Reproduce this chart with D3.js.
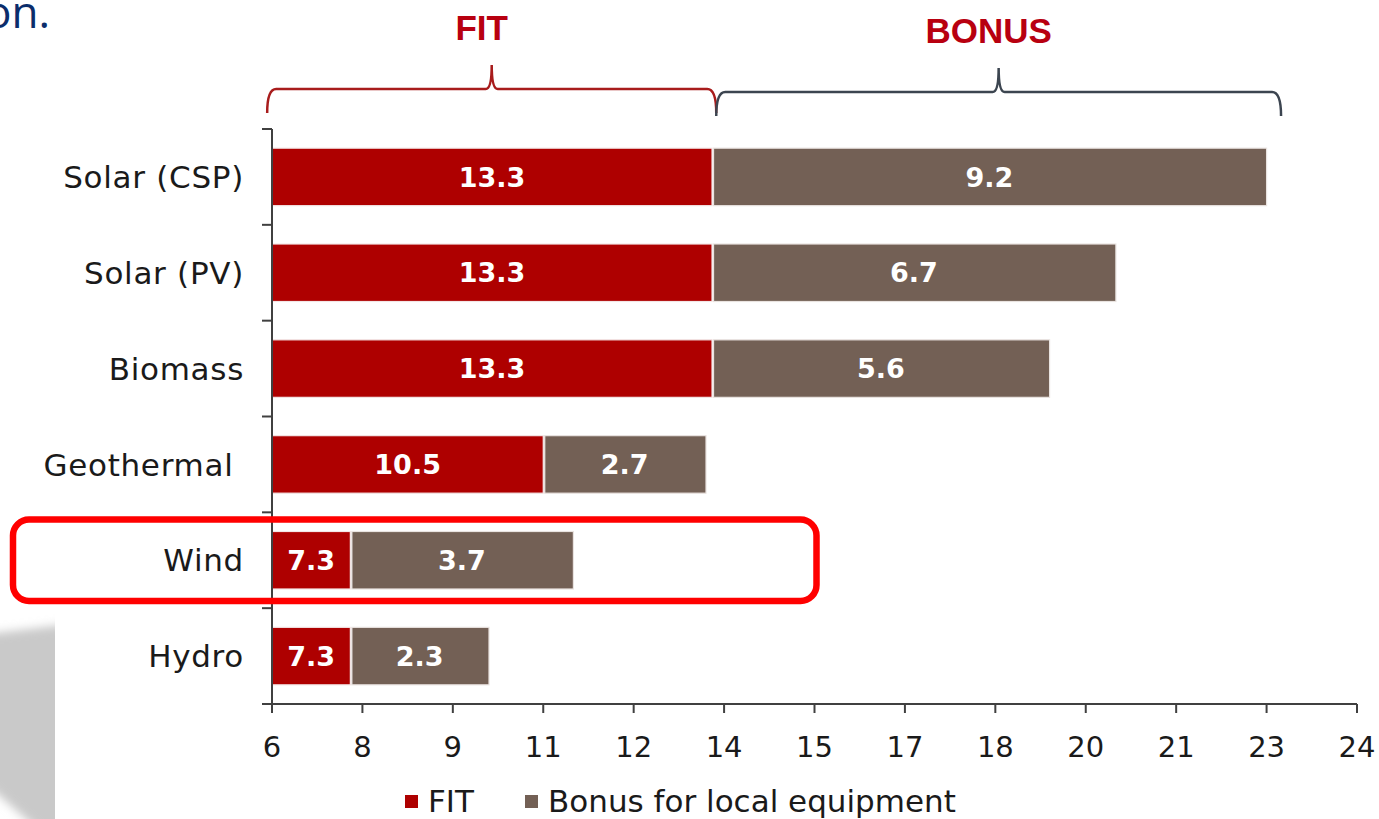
<!DOCTYPE html>
<html>
<head>
<meta charset="utf-8">
<script src="https://cdn.jsdelivr.net/npm/d3@7"></script>
<style>
  html, body { margin: 0; padding: 0; background: #ffffff; }
  svg { display: block; }
</style>
</head>
<body>
<script>
// ---------- data ----------
const categories = ["Solar (CSP)", "Solar (PV)", "Biomass", "Geothermal\u00a0", "Wind", "Hydro"];
const fitValues = [13.3, 13.3, 13.3, 10.5, 7.3, 7.3];
const bonusValues = [9.2, 6.7, 5.6, 2.7, 3.7, 2.3];
const tickValues = [6, 7.5, 9, 10.5, 12, 13.5, 15, 16.5, 18, 19.5, 21, 22.5, 24];
const tickLabels = ["6", "8", "9", "11", "12", "14", "15", "17", "18", "20", "21", "23", "24"];
const seriesNames = ["FIT", "Bonus for local equipment"];
const braceGroups = ["FIT", "BONUS"];
const braceRanges = [[5.92, 13.37], [13.37, 22.74]];
const highlightCategory = "Wind";

// ---------- layout ----------
const W = 1379, H = 819;
const colors = { fit: "#ae0000", bonus: "#736055", axis: "#404040", text: "#1a1a1a" };

const svg = d3.select("body").append("svg").attr("width", W).attr("height", H);

const x = d3.scaleLinear().domain([6, 24]).range([272, 1357]);
const y = d3.scaleBand().domain(categories).range([129, 704]).paddingInner(0.4).paddingOuter(0.2);
const step = y.step();

const defs = svg.append("defs");
// grey slide shadow at bottom-left
const blur = defs.append("filter").attr("id", "blur").attr("x", "-50%").attr("y", "-50%").attr("width", "200%").attr("height", "200%");
blur.append("feGaussianBlur").attr("stdDeviation", 5);
defs.append("clipPath").attr("id", "leftclip").append("rect").attr("x", 0).attr("y", 600).attr("width", 55).attr("height", 219);
svg.append("g").attr("clip-path", "url(#leftclip)")
  .append("polygon")
  .attr("points", "-30,636 70,624 70,840 50,840 -30,770")
  .attr("fill", "#c9c9c9")
  .attr("filter", "url(#blur)");

// top-left partial text
svg.append("text").attr("x", 50).attr("y", 28).attr("text-anchor", "end")
  .attr("font-family", "'Open Sans', 'Liberation Sans', sans-serif").attr("font-size", 44)
  .attr("fill", "#0b2d6b").text("on.");

// ---------- bars ----------
const rows = categories.map((c, i) => ({ cat: c, fit: fitValues[i], bonus: bonusValues[i] }));
const bars = svg.append("g");
rows.forEach(d => {
  const g = bars.append("g");
  g.append("rect")
    .attr("x", x(6)).attr("y", y(d.cat))
    .attr("width", x(d.fit) - x(6)).attr("height", y.bandwidth())
    .attr("fill", colors.fit).attr("stroke", "#f3e6e6").attr("stroke-width", 1.2);
  g.append("rect")
    .attr("x", x(d.fit) + 1.5).attr("y", y(d.cat))
    .attr("width", x(d.fit + d.bonus) - x(d.fit) - 1.5).attr("height", y.bandwidth())
    .attr("fill", colors.bonus).attr("stroke", "#e9e3e0").attr("stroke-width", 1.2);
  const cy = y(d.cat) + y.bandwidth() / 2;
  g.append("text")
    .attr("x", (x(6) + x(d.fit)) / 2).attr("y", cy).attr("dy", "0.36em")
    .attr("text-anchor", "middle").attr("fill", "#ffffff")
    .attr("font-family", "'DejaVu Sans', Verdana, sans-serif").attr("font-weight", "bold").attr("font-size", 27)
    .text(d3.format(".1f")(d.fit));
  g.append("text")
    .attr("x", (x(d.fit) + x(d.fit + d.bonus)) / 2).attr("y", cy).attr("dy", "0.36em")
    .attr("text-anchor", "middle").attr("fill", "#ffffff")
    .attr("font-family", "'DejaVu Sans', Verdana, sans-serif").attr("font-weight", "bold").attr("font-size", 27)
    .text(d3.format(".1f")(d.bonus));
});

// ---------- axes ----------
const axisG = svg.append("g").attr("stroke", colors.axis).attr("stroke-width", 2).attr("fill", "none");
axisG.append("line").attr("x1", x(6)).attr("x2", x(6)).attr("y1", y.range()[0]).attr("y2", y.range()[1]);
const yBounds = d3.range(categories.length + 1).map(i => y.range()[0] + i * step);
axisG.selectAll(".yt").data(yBounds).join("line")
  .attr("x1", x(6) - 10).attr("x2", x(6)).attr("y1", d => d).attr("y2", d => d);
axisG.append("line").attr("x1", x(6)).attr("x2", x(24)).attr("y1", y.range()[1]).attr("y2", y.range()[1]);
axisG.selectAll(".xt").data(tickValues).join("line")
  .attr("x1", d => x(d)).attr("x2", d => x(d)).attr("y1", y.range()[1]).attr("y2", y.range()[1] + 9);

// x tick labels
svg.append("g").selectAll("text").data(tickValues).join("text")
  .attr("x", d => x(d)).attr("y", 757)
  .attr("text-anchor", "middle")
  .attr("font-family", "'DejaVu Sans', Verdana, sans-serif").attr("font-size", 29)
  .attr("fill", colors.text)
  .text((d, i) => tickLabels[i]);

// category labels
svg.append("g").selectAll("text").data(categories).join("text")
  .attr("x", 244).attr("y", d => y(d) + y.bandwidth() / 2).attr("dy", "0.36em")
  .attr("text-anchor", "end")
  .attr("font-family", "'DejaVu Sans', Verdana, sans-serif").attr("font-size", 31)
  .attr("letter-spacing", 0.7)
  .attr("fill", colors.text)
  .text(d => d);

// ---------- braces ----------
const braceColors = ["#a81c1c", "#3c4550"];
const braceY = [89, 92];
braceRanges.forEach((r, i) => {
  const x0 = x(r[0]), x1 = x(r[1]), m = (x0 + x1) / 2, by = braceY[i];
  const p = d3.path();
  p.moveTo(x0, by + 24);
  p.quadraticCurveTo(x0, by, x0 + 9, by);
  p.lineTo(m - 6, by);
  p.quadraticCurveTo(m, by, m, by - 24);
  p.quadraticCurveTo(m, by, m + 6, by);
  p.lineTo(x1 - 9, by);
  p.quadraticCurveTo(x1, by, x1, by + 24);
  svg.append("path").attr("d", p.toString()).attr("fill", "none")
    .attr("stroke", braceColors[i]).attr("stroke-width", 2.5);
  svg.append("text").attr("x", m - 10).attr("y", by - 49)
    .attr("text-anchor", "middle")
    .attr("font-family", "'Liberation Sans', Arial, sans-serif").attr("font-weight", "bold").attr("font-size", 35)
    .attr("fill", "#b80010").text(braceGroups[i]);
});

// ---------- highlight box ----------
svg.append("rect")
  .attr("x", 13).attr("y", y(highlightCategory) - 12)
  .attr("width", x(15) - 11).attr("height", y.bandwidth() + 24)
  .attr("rx", 16).attr("ry", 16)
  .attr("fill", "none").attr("stroke", "#ff0000").attr("stroke-width", 6.5);

// ---------- legend ----------
const legend = svg.append("g");
const legendX = [405, 525];
const legendColors = [colors.fit, colors.bonus];
seriesNames.forEach((s, i) => {
  legend.append("rect").attr("x", legendX[i]).attr("y", 795).attr("width", 13).attr("height", 13).attr("fill", legendColors[i]);
  legend.append("text").attr("x", legendX[i] + 23).attr("y", 812)
    .attr("font-family", "'DejaVu Sans', Verdana, sans-serif").attr("font-size", 31)
    .attr("fill", colors.text).text(s);
});
</script>
</body>
</html>
